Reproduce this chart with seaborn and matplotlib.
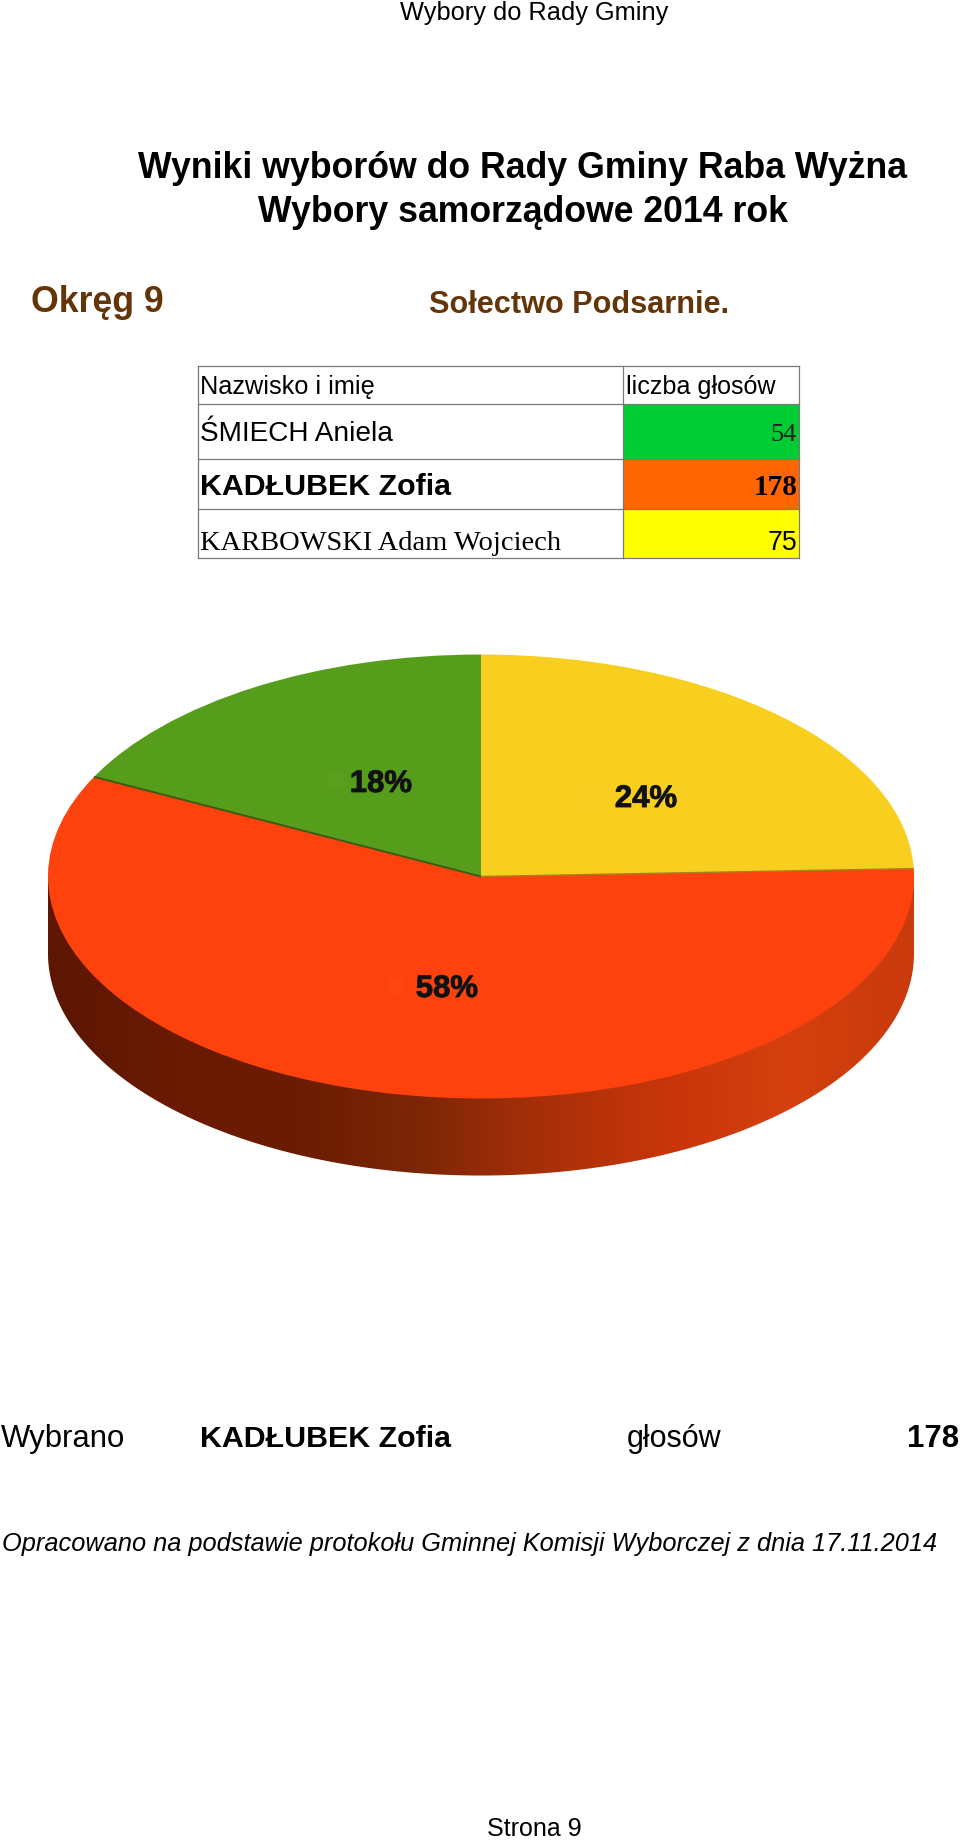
import numpy as np
import matplotlib
matplotlib.use('Agg')
import matplotlib.pyplot as plt
import matplotlib.patheffects as pe
from matplotlib.patches import Polygon, Rectangle
import seaborn as sns

candidates = ['ŚMIECH Aniela', 'KADŁUBEK Zofia', 'KARBOWSKI Adam Wojciech']
votes = [54, 178, 75]
cell_colors = ['#00cc33', '#ff6600', '#ffff00']
slice_colors = ['#579d1c', '#fd420e', '#f9cf1f']
table_header = ['Nazwisko i imię', 'liczba głosów']
elected = 'KADŁUBEK Zofia'

# side of the pie, dark on the left and lighter to the right
side_colors = ['#5c1602', '#6a1a02', '#6b1c03', '#7c2606', '#a83009', '#c8350a', '#d5400e', '#c93a0c']

FIG_W, FIG_H = 960, 1842
SANS = 'Liberation Sans'
SERIF = 'Liberation Serif'
BROWN = '#643508'

sns.set_theme(style='white')
plt.rcParams['font.family'] = [SANS, 'DejaVu Sans']

fig = plt.figure(figsize=(FIG_W / 100, FIG_H / 100), dpi=100, facecolor='white')

# pie axes, stretched so the circle turns into the ellipse of the 3D look
depth = 0.347
pie_left, pie_width, pie_top, pie_ry = 48, 866, 654.5, 222
pie_height = pie_ry * (2 + depth)
ax = fig.add_axes([pie_left / FIG_W, 1 - (pie_top + pie_height) / FIG_H,
                   pie_width / FIG_W, pie_height / FIG_H])

wedges, _, autotexts = ax.pie(votes, colors=slice_colors, startangle=90, radius=1,
                              autopct='%.0f%%', wedgeprops={'linewidth': 0, 'zorder': 3})
ax.set_aspect('auto')

cmap = sns.blend_palette(side_colors, n_colors=256, as_cmap=True)
im = ax.imshow(np.linspace(0, 1, 256)[None, :], cmap=cmap, aspect='auto',
               extent=(-1, 1, -1 - depth, 0), zorder=1)
t = np.linspace(np.pi, 2 * np.pi, 300)
outline = np.column_stack([np.cos(t), np.sin(t) - depth])
outline = np.vstack([outline, [[1, 0.05], [-1, 0.05]]])
im.set_clip_path(Polygon(outline, closed=True, transform=ax.transData))

# thin seams where the red slice meets the others
for angle, color, lw in [(wedges[0].theta2, '#3d5c12', 1.4), (wedges[1].theta2, '#a8801a', 1.0)]:
    a = np.deg2rad(angle)
    ax.plot([0, np.cos(a)], [0, np.sin(a)], color=color, lw=lw, zorder=4, solid_capstyle='butt')

ax.set_xlim(-1, 1)
ax.set_ylim(-1 - depth, 1)
ax.axis('off')

# overlay in pixel coordinates for the page text and the table
page = fig.add_axes([0, 0, 1, 1], facecolor='none')
page.set_xlim(0, FIG_W)
page.set_ylim(FIG_H, 0)
page.axis('off')


def put(x, y, s, size, ha='left', weight='normal', style='normal', family=SANS, color='black'):
    return page.text(x, y, s, fontsize=size, ha=ha, va='baseline', fontweight=weight,
                     fontstyle=style, family=family, color=color)


put(534.5, 20, 'Wybory do Rady Gminy', 18.3, ha='center')
put(522.5, 178.5, 'Wyniki wyborów do Rady Gminy Raba Wyżna', 25.7, ha='center', weight='bold')
put(522.5, 222.5, 'Wybory samorządowe 2014 rok', 25.7, ha='center', weight='bold')
put(31, 312, 'Okręg 9', 25.7, weight='bold', color=BROWN)
put(429, 313, 'Sołectwo Podsarnie.', 22.1, weight='bold', color=BROWN)

# table
col_x = [197.5, 622.5, 798.5]
row_y = [366, 404, 459.5, 509, 558]
for i, color in enumerate(cell_colors):
    page.add_patch(Rectangle((col_x[1], row_y[i + 1]), col_x[2] - col_x[1],
                             row_y[i + 2] - row_y[i + 1], facecolor=color, edgecolor='none'))
for y in row_y:
    page.plot(col_x[::2], [y, y], color='#7a7a7a', lw=0.9, solid_capstyle='projecting')
for x in col_x:
    page.plot([x, x], row_y[::4], color='#7a7a7a', lw=0.9, solid_capstyle='projecting')

put(200.5, 394, table_header[0], 18.2)
put(626.5, 394, table_header[1], 18.1)
put(200.5, 441, candidates[0], 20.2)
put(797, 441, str(votes[0]), 19, ha='right', family=SERIF, color='#222222')
put(200.5, 494.5, candidates[1], 21.9, weight='bold')
put(797, 494.5, str(votes[1]), 21, ha='right', weight='bold', family=SERIF)
put(200.5, 550, candidates[2], 20.5, family=SERIF)
put(797, 550, str(votes[2]), 19.3, ha='right')

# percent labels come from pie, only moved to where the picture has them
label_pos = [(381, 792), (447, 997), (646, 807)]
key_pos = [(335, 782), (396, 987), (597, 796)]
for txt, (x, y), (kx, ky) in zip(autotexts, label_pos, key_pos):
    txt.set_transform(page.transData)
    txt.set_position((x, y))
    txt.set(fontsize=22.4, fontweight='bold', family=SANS, color='#111111',
            ha='center', va='baseline', zorder=6, clip_on=False)
    txt.set_path_effects([pe.withStroke(linewidth=0.7, foreground='#222222')])
    # very faint square left over from the legend key next to each label
    page.add_patch(Rectangle((kx - 8, ky - 8), 16, 16, facecolor='#ffe060', alpha=0.03,
                             edgecolor='none'))

# footer
put(1, 1447, 'Wybrano', 22.4)
put(200.5, 1447, elected, 21.9, weight='bold')
put(626.5, 1447, 'głosów', 22)
put(959, 1447, str(votes[1]), 22.4, ha='right', weight='bold')
put(1.5, 1551, 'Opracowano na podstawie protokołu Gminnej Komisji Wyborczej z dnia 17.11.2014',
    18.3, style='italic')
put(534, 1836, 'Strona 9', 18, ha='center')

fig.savefig('out.png', dpi=100)
